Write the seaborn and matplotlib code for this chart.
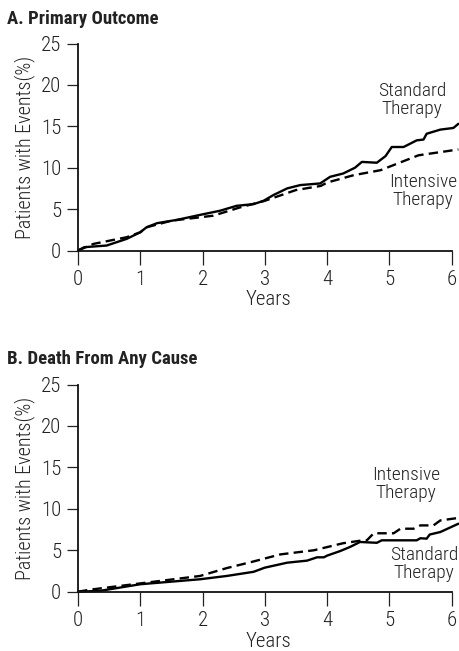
import numpy as np
import pandas as pd
import matplotlib
matplotlib.use("Agg")
import matplotlib.pyplot as plt
import seaborn as sns

# panel A: primary outcome (years, % with events)
a_std_years = [0, 0.1, 0.46, 0.78, 1.0, 1.1, 1.27, 1.59, 1.96, 2.28, 2.55, 2.82, 2.98, 3.14, 3.36,
               3.57, 3.89, 4.05, 4.26, 4.45, 4.56, 4.8, 4.94, 5.04, 5.23, 5.44, 5.55, 5.6, 5.82,
               6.03, 6.11]
a_std_pct = [0, 0.4, 0.6, 1.4, 2.2, 2.8, 3.3, 3.7, 4.3, 4.8, 5.4, 5.6, 6.0, 6.7, 7.5,
             7.9, 8.1, 8.9, 9.3, 10.0, 10.7, 10.6, 11.4, 12.5, 12.5, 13.3, 13.4, 14.1, 14.6,
             14.8, 15.3]
a_int_years = [0, 0.25, 0.78, 1.0, 1.1, 1.5, 2.17, 2.6, 3.0, 3.5, 3.9, 4.0, 4.43, 4.86, 5.47, 6.11]
a_int_pct = [0, 0.8, 1.6, 2.2, 2.8, 3.6, 4.2, 5.2, 6.0, 7.3, 7.8, 8.2, 9.1, 9.7, 11.5, 12.2]

# panel B: death from any cause
b_std_years = [0, 0.35, 1.0, 1.96, 2.39, 2.82, 3.0, 3.36, 3.68, 3.84, 3.95, 4.0, 4.21, 4.37,
               4.53, 4.8, 4.88, 5.44, 5.5, 5.6, 5.65, 5.82, 6.11]
b_std_pct = [0, 0.1, 0.9, 1.5, 1.9, 2.4, 2.9, 3.5, 3.75, 4.15, 4.15, 4.35, 4.9, 5.4,
             6.0, 5.9, 6.2, 6.2, 6.45, 6.4, 6.9, 7.2, 8.2]
b_int_years = [0, 0.2, 1.0, 1.96, 2.39, 2.82, 3.25, 3.79, 4.26, 4.53, 4.64, 4.75, 5.07, 5.18,
               5.39, 5.5, 5.71, 5.82, 6.11]
b_int_pct = [0, 0.25, 1.0, 1.9, 2.85, 3.65, 4.5, 5.0, 5.85, 6.15, 6.2, 7.05, 7.05, 7.6,
             7.6, 8.0, 8.0, 8.6, 8.9]

panel_titles = ["A. Primary Outcome", "B. Death From Any Cause"]
y_ticks = [0, 5, 10, 15, 20, 25]
x_ticks = [0, 1, 2, 3, 4, 5, 6]

sns.set_style("ticks")
plt.rcParams["font.family"] = ["Roboto Condensed", "Liberation Sans", "DejaVu Sans"]

fig = plt.figure(figsize=(4.59, 6.51), dpi=100)
W, H = 459, 651


def make_ax(y_zero, y_top):
    left = 78 / W
    bottom = (H - y_zero) / H
    height = (y_zero - y_top) / H
    return fig.add_axes([left, bottom, 1 - left, height])


panels = [
    (make_ax(250.5, 43.5), a_std_years, a_std_pct, a_int_years, a_int_pct),
    (make_ax(591.7, 384.5), b_std_years, b_std_pct, b_int_years, b_int_pct),
]

ink = "#222222"
for ax, sx, sy, ix, iy in panels:
    df = pd.concat([
        pd.DataFrame({"Years": sx, "Pct": sy, "Group": "Standard Therapy"}),
        pd.DataFrame({"Years": ix, "Pct": iy, "Group": "Intensive Therapy"}),
    ])
    sns.lineplot(data=df, x="Years", y="Pct", style="Group",
                 dashes={"Standard Therapy": "", "Intensive Therapy": (4, 2.2)},
                 color="black", linewidth=1.7, legend=False, ax=ax, clip_on=False)
    ax.set_xlim(0, 6.12)
    ax.set_ylim(0, 25)
    ax.set_xticks(x_ticks)
    ax.set_yticks(y_ticks)
    sns.despine(ax=ax)
    ax.spines["left"].set_bounds(0, 25)
    ax.spines["bottom"].set_bounds(0, 6)
    for s in ("left", "bottom"):
        ax.spines[s].set_linewidth(1.3)
        ax.spines[s].set_color("#111111")
    ax.tick_params(axis="y", length=8, width=0.9, pad=4, labelsize=15, colors=ink)
    ax.tick_params(axis="x", length=10, width=0.9, pad=4, labelsize=15, colors=ink)
    for lab in ax.get_xticklabels() + ax.get_yticklabels():
        lab.set_fontweight(300)
    ax.set_xlabel("Years", fontsize=15, fontweight=300, labelpad=1, color=ink)
    ax.set_ylabel("Patients with Events(%)", fontsize=14.5, fontweight=300, labelpad=4, color=ink)

ax_a, ax_b = panels[0][0], panels[1][0]
txt = dict(fontsize=14, fontweight=300, ha="center", va="center", linespacing=1.0, color=ink)
ax_a.text(5.37, 18.2, "Standard\nTherapy", **txt)
ax_a.text(5.54, 7.2, "Intensive\nTherapy", **txt)
ax_b.text(5.27, 13.0, "Intensive\nTherapy", **txt)
ax_b.text(5.56, 3.4, "Standard\nTherapy", **txt)

fig.text(7 / W, 1 - 24 / H, panel_titles[0], fontsize=13.5, fontweight="bold",
         ha="left", va="baseline", color=ink)
fig.text(7 / W, 1 - 364 / H, panel_titles[1], fontsize=13.5, fontweight="bold",
         ha="left", va="baseline", color=ink)

fig.savefig("out.png", dpi=100)
